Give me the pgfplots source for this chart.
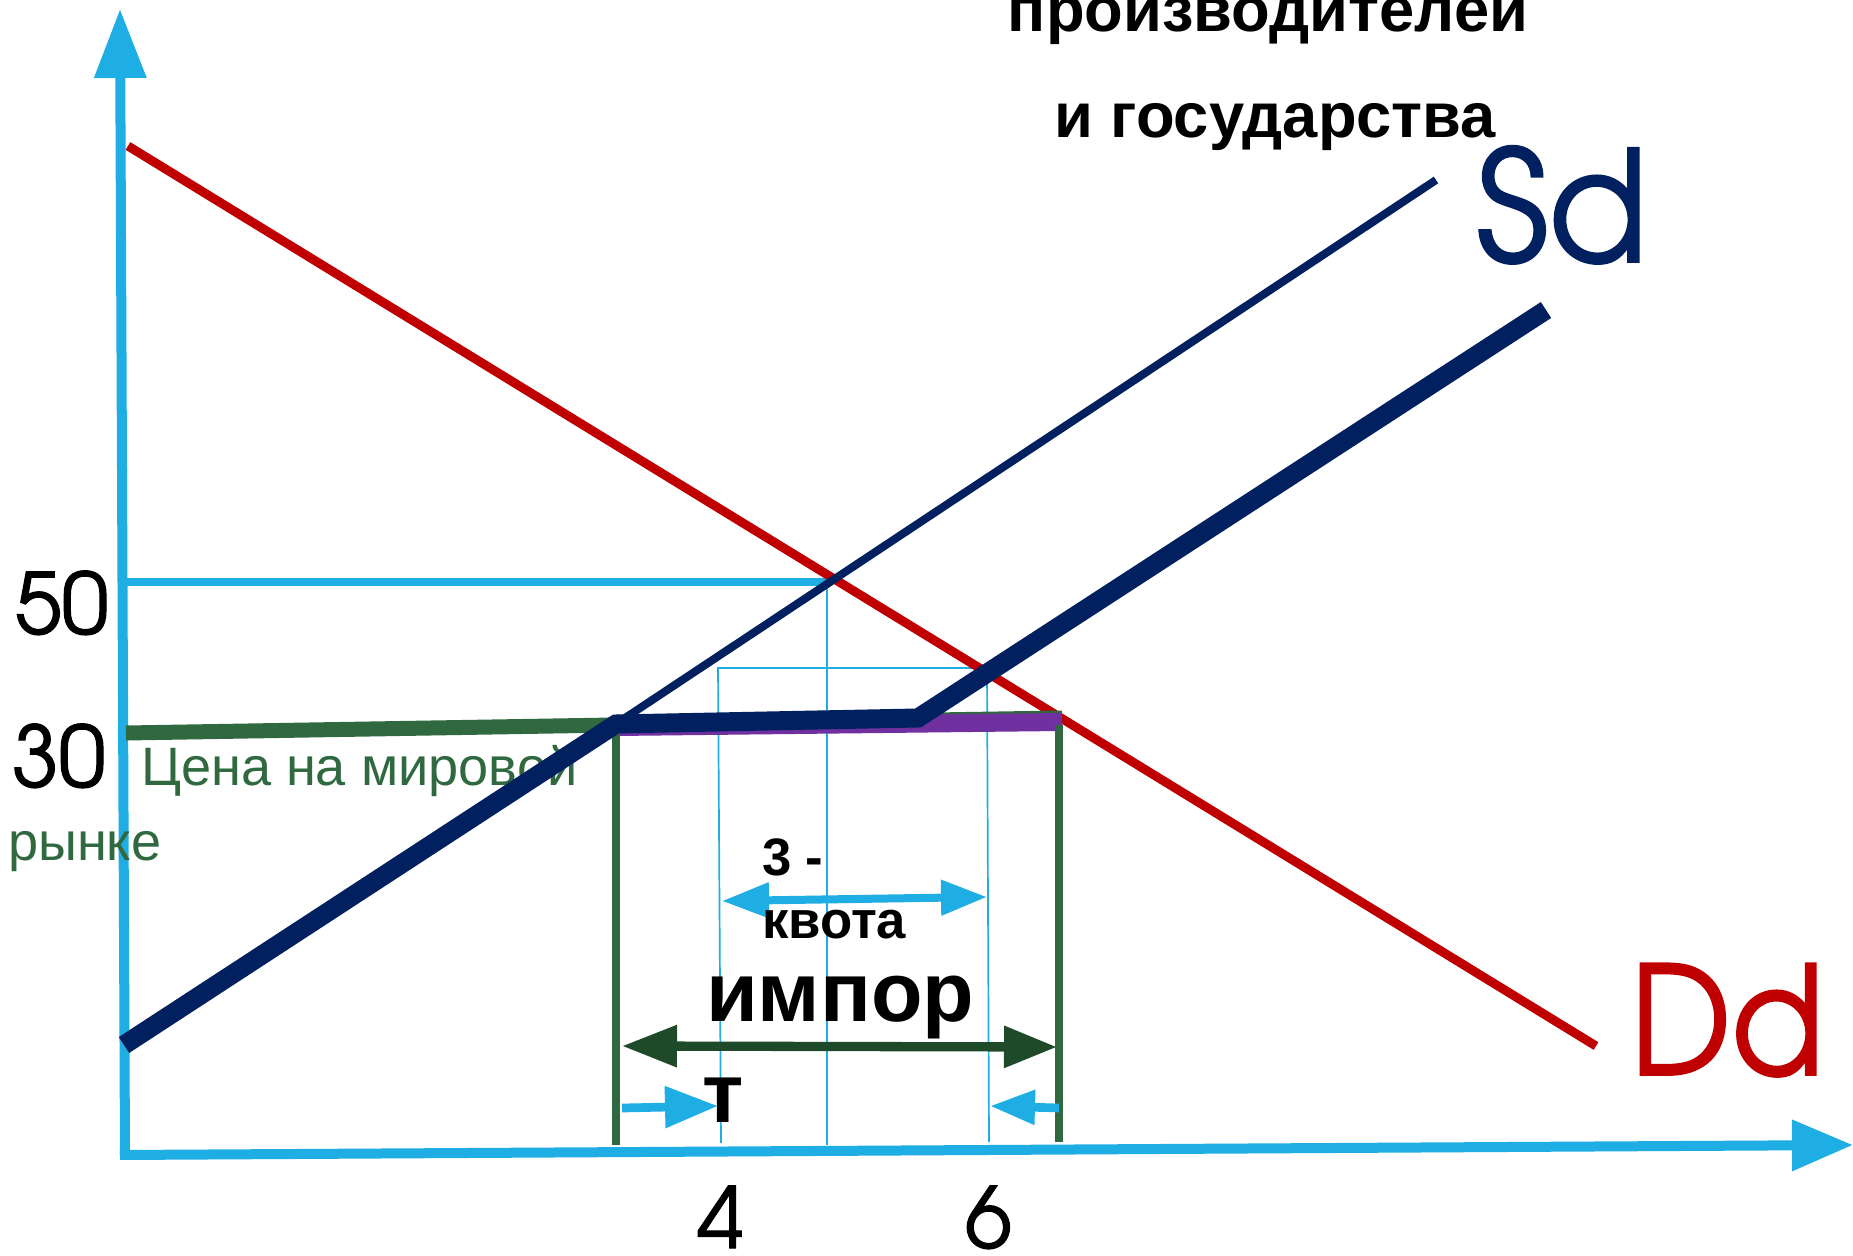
\documentclass[border=0pt]{standalone}
\usepackage{fontspec}
\usepackage{graphicx}
\setmainfont{Liberation Sans}
\newfontfamily\gothic[Extension=.otf,FakeBold=1.2]{texgyreadventor-regular}
\usepackage{pgfplots}
\pgfplotsset{compat=1.18}
\usetikzlibrary{arrows.meta}
\definecolor{axblue}{RGB}{30,174,228}
\definecolor{navy}{RGB}{0,32,96}
\definecolor{dred}{RGB}{192,0,0}
\definecolor{wgreen}{RGB}{48,105,64}
\definecolor{igreen}{RGB}{30,74,42}
\definecolor{purp}{RGB}{112,48,160}
\tikzset{lbl/.style={inner sep=0pt,outer sep=0pt}}

\begin{document}
\begin{tikzpicture}
\begin{axis}[name=ax,hide axis,scale only axis,width=18.53cm,height=12.56cm,
 xmin=0,xmax=1853,ymin=0,ymax=1256,y dir=reverse,clip=false]
% axes
\addplot[axblue,line width=0.1cm,-{Triangle[length=0.69cm,width=0.50cm]}] coordinates {(125,1156) (120,9)};
\addplot[axblue,line width=0.1cm,-{Triangle[length=0.61cm,width=0.49cm]}] coordinates {(120,1155) (1853,1145)};
% price 50 and guides
\addplot[axblue,line width=0.08cm] coordinates {(125,582) (827,582)};
\addplot[axblue,line width=0.017cm] coordinates {(827,582) (827,1145)};
\addplot[axblue,line width=0.017cm] coordinates {(721,1143) (718,668) (987,668) (989,1142)};
% demand
\addplot[dred,line width=0.09cm] coordinates {(128,146) (1596,1046)};
% domestic supply
\addplot[navy,line width=0.08cm] coordinates {(616,724) (1436,180)};
% world price
\addplot[wgreen,line width=0.15cm] coordinates {(126,733) (614,725) (1062,718)};
\addplot[purp,line width=0.18cm] coordinates {(616,727) (1062,722)};
\addplot[wgreen,line width=0.08cm] coordinates {(616,718) (616,1145)};
\addplot[wgreen,line width=0.08cm] coordinates {(1059,725) (1059,1142)};
\node[lbl,anchor=base west,text=wgreen,font=\fontsize{15.4}{15}\selectfont] at (axis cs:141,785) {Цена на мировой};
\node[lbl,anchor=base west,text=wgreen,font=\fontsize{15.4}{15}\selectfont] at (axis cs:8,860) {рынке};
% supply with quota
\addplot[navy,line width=0.19cm] coordinates {(124,1045) (616,724) (918,718) (1546,310)};
% arrows
\addplot[axblue,line width=0.08cm,{Triangle[length=0.47cm,width=0.34cm]}-{Triangle[length=0.46cm,width=0.34cm]}] coordinates {(722,901) (987,897)};
\addplot[igreen,line width=0.093cm,{Triangle[length=0.55cm,width=0.40cm]}-{Triangle[length=0.53cm,width=0.40cm]}] coordinates {(622,1046) (1057,1047)};
\addplot[axblue,line width=0.087cm,-{Triangle[length=0.53cm,width=0.40cm]}] coordinates {(622,1108) (718,1106)};
\addplot[axblue,line width=0.087cm,-{Triangle[length=0.45cm,width=0.33cm]}] coordinates {(1059,1108) (990,1106)};
% texts
\node[lbl,anchor=base,font=\bfseries\fontsize{18}{18}\selectfont] at (axis cs:1268,32) {производителей};
\node[lbl,anchor=base,font=\bfseries\fontsize{18}{18}\selectfont] at (axis cs:1275,138) {и государства};
\node[lbl,anchor=base west,text=navy,font=\gothic\fontsize{44}{44}\selectfont] at (axis cs:1476,262) {\scalebox{0.94}[1]{Sd}};
\node[lbl,anchor=base west,text=dred,font=\gothic\fontsize{43}{43}\selectfont] at (axis cs:1630,1075) {\scalebox{0.9}[1]{Dd}};
\node[lbl,anchor=base west,font=\gothic\fontsize{24}{24}\selectfont] at (axis cs:15,634) {50};
\node[lbl,anchor=base west,font=\gothic\fontsize{24}{24}\selectfont] at (axis cs:12,787) {30};
\node[lbl,anchor=base west,font=\gothic\fontsize{24}{24}\selectfont] at (axis cs:697,1248) {4};
\node[lbl,anchor=base west,font=\gothic\fontsize{24}{24}\selectfont] at (axis cs:965,1248) {6};
\node[lbl,anchor=base west,font=\bfseries\fontsize{15}{15}\selectfont] at (axis cs:762,875) {3 -};
\node[lbl,anchor=base west,font=\bfseries\fontsize{15}{15}\selectfont] at (axis cs:762,938) {квота};
\node[lbl,anchor=base west,font=\bfseries\fontsize{24}{24}\selectfont] at (axis cs:706,1021) {импор};
\node[lbl,anchor=base west,font=\bfseries\fontsize{24}{24}\selectfont] at (axis cs:702,1122) {т};
\end{axis}
\pgfresetboundingbox
\useasboundingbox (ax.south west) rectangle (ax.north east);
\end{tikzpicture}
\end{document}
